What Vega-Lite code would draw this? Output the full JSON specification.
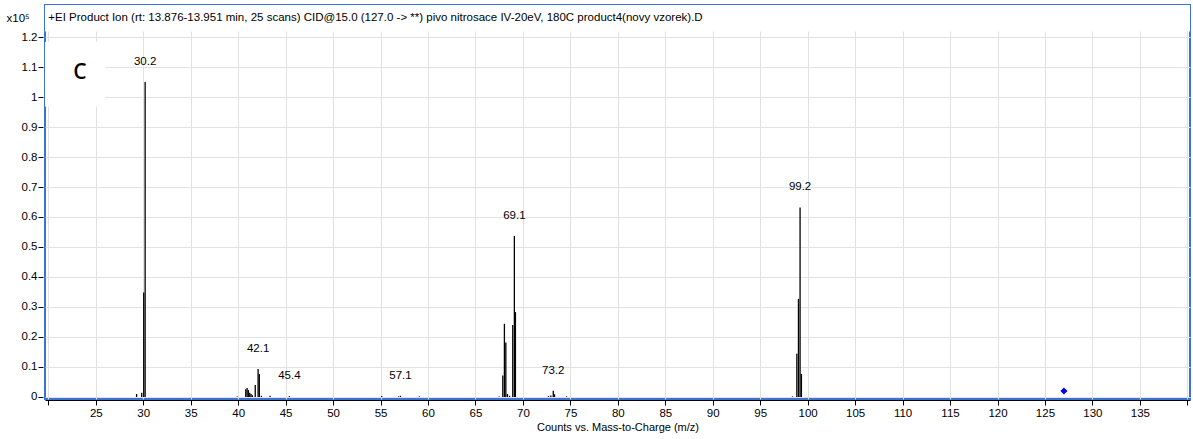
{
  "$schema": "https://vega.github.io/schema/vega-lite/v6.json",
  "width": 1145,
  "height": 394,
  "autosize": {"type": "none"},
  "padding": {"left": 45, "top": 5, "right": 3, "bottom": 40},
  "background": "white",
  "config": {
    "view": {"stroke": "#3a72d6", "strokeWidth": 2},
    "font": "Liberation Sans",
    "axis": {
      "labelColor": "#000",
      "titleColor": "#000",
      "labelFontSize": 11.5,
      "titleFontSize": 11,
      "titleFontWeight": "normal",
      "tickColor": "#000",
      "domainColor": "#000",
      "gridColor": "#e2e2e2",
      "gridWidth": 1,
      "labelOverlap": false
    }
  },
  "datasets": {
    "peaks": [
      {"mz": 29.3, "intensity": 0.010},
      {"mz": 29.84, "intensity": 0.014},
      {"mz": 30.05, "intensity": 0.348},
      {"mz": 30.2, "intensity": 1.05, "label": "30.2"},
      {"mz": 39.9, "intensity": 0.002},
      {"mz": 40.8, "intensity": 0.026},
      {"mz": 40.94, "intensity": 0.030},
      {"mz": 41.07, "intensity": 0.023},
      {"mz": 41.22, "intensity": 0.014},
      {"mz": 41.36, "intensity": 0.010},
      {"mz": 41.5, "intensity": 0.006},
      {"mz": 41.8, "intensity": 0.040},
      {"mz": 42.1, "intensity": 0.093, "label": "42.1"},
      {"mz": 42.23, "intensity": 0.077},
      {"mz": 42.45, "intensity": 0.004},
      {"mz": 43.36, "intensity": 0.004},
      {"mz": 45.4, "intensity": 0.003, "label": "45.4"},
      {"mz": 55.13, "intensity": 0.003},
      {"mz": 56.9, "intensity": 0.002},
      {"mz": 57.1, "intensity": 0.004, "label": "57.1"},
      {"mz": 59.1, "intensity": 0.002},
      {"mz": 67.5, "intensity": 0.002},
      {"mz": 67.88, "intensity": 0.072},
      {"mz": 68.05, "intensity": 0.244},
      {"mz": 68.2, "intensity": 0.182},
      {"mz": 68.37, "intensity": 0.010},
      {"mz": 68.6, "intensity": 0.004},
      {"mz": 68.93, "intensity": 0.240},
      {"mz": 69.1, "intensity": 0.537, "label": "69.1"},
      {"mz": 69.21, "intensity": 0.283},
      {"mz": 72.69, "intensity": 0.003},
      {"mz": 72.94, "intensity": 0.005},
      {"mz": 73.2, "intensity": 0.021, "label": "73.2"},
      {"mz": 73.33, "intensity": 0.009},
      {"mz": 74.6, "intensity": 0.002},
      {"mz": 98.4, "intensity": 0.002},
      {"mz": 98.86, "intensity": 0.144},
      {"mz": 99.03, "intensity": 0.327},
      {"mz": 99.2, "intensity": 0.632, "label": "99.2"},
      {"mz": 99.34, "intensity": 0.077}
    ],
    "precursor": [{"mz": 127.0, "intensity": 0.02}],
    "one": [{}]
  },
  "layer": [
    {
      "data": {"name": "peaks"},
      "mark": {"type": "rule", "color": "#000", "strokeWidth": 1.3},
      "encoding": {
        "x": {
          "field": "mz",
          "type": "quantitative",
          "scale": {"domain": [19.65, 140.28], "nice": false, "zero": false},
          "axis": {
            "values": [20, 25, 30, 35, 40, 45, 50, 55, 60, 65, 70, 75, 80, 85, 90, 95, 100, 105, 110, 115, 120, 125, 130, 135, 140],
            "tickCount": 50,
            "labelExpr": "datum.value == 20 || datum.value == 140 ? '' : datum.label",
            "title": "Counts vs. Mass-to-Charge (m/z)",
            "grid": true,
            "offset": 1,
            "tickSize": 5,
            "labelPadding": 2,
            "titlePadding": 3,
            "labelOverlap": false
          }
        },
        "y": {
          "field": "intensity",
          "type": "quantitative",
          "scale": {"domain": [-0.0067, 1.3067], "nice": false, "zero": false},
          "axis": {
            "values": [0, 0.1, 0.2, 0.3, 0.4, 0.5, 0.6, 0.7, 0.8, 0.9, 1, 1.1, 1.2],
            "tickCount": 30,
            "format": "~f",
            "title": "x10⁵",
            "titleAngle": 0,
            "titleAlign": "left",
            "titleBaseline": "middle",
            "titleX": -37,
            "titleY": 13,
            "titleFontSize": 11.5,
            "domain": false,
            "offset": 2,
            "tickSize": 5,
            "labelPadding": 1,
            "grid": true,
            "labelOverlap": false
          }
        },
        "y2": {"datum": 0}
      }
    },
    {
      "data": {"name": "one"},
      "mark": {"type": "rect", "color": "white", "opacity": 1},
      "encoding": {
        "x": {"datum": 19.65, "type": "quantitative"},
        "x2": {"datum": 140.28},
        "y": {"datum": 1.218, "type": "quantitative"},
        "y2": {"datum": 1.3067}
      }
    },
    {
      "data": {"name": "one"},
      "mark": {"type": "rect", "color": "white", "opacity": 1},
      "encoding": {
        "x": {"datum": 19.65, "type": "quantitative"},
        "x2": {"datum": 26.0},
        "y": {"datum": 0.968, "type": "quantitative"},
        "y2": {"datum": 1.183}
      }
    },
    {
      "data": {"name": "peaks"},
      "transform": [{"filter": "datum.label != null"}],
      "mark": {"type": "text", "fontSize": 11.5, "color": "#000", "baseline": "middle", "dy": -20},
      "encoding": {
        "x": {"field": "mz", "type": "quantitative"},
        "y": {"field": "intensity", "type": "quantitative"},
        "text": {"field": "label"}
      }
    },
    {
      "data": {"name": "precursor"},
      "mark": {"type": "point", "shape": "diamond", "filled": true, "color": "#0000ff", "size": 50, "opacity": 1},
      "encoding": {
        "x": {"field": "mz", "type": "quantitative"},
        "y": {"field": "intensity", "type": "quantitative"}
      }
    },
    {
      "data": {"name": "one"},
      "mark": {"type": "text", "align": "left", "baseline": "middle", "fontSize": 11.5, "color": "#000"},
      "encoding": {
        "x": {"datum": 20, "type": "quantitative"},
        "y": {"datum": 1.263, "type": "quantitative"},
        "text": {"value": "+EI Product Ion (rt: 13.876-13.951 min, 25 scans) CID@15.0 (127.0 -> **) pivo nitrosace IV-20eV, 180C product4(novy vzorek).D"}
      }
    },
    {
      "data": {"name": "one"},
      "mark": {"type": "text", "align": "center", "baseline": "middle", "fontSize": 21, "font": "Open Sans", "fontWeight": 600, "color": "#000"},
      "encoding": {
        "x": {"datum": 23.34, "type": "quantitative"},
        "y": {"datum": 1.08, "type": "quantitative"},
        "text": {"value": "C"}
      }
    }
  ]
}
